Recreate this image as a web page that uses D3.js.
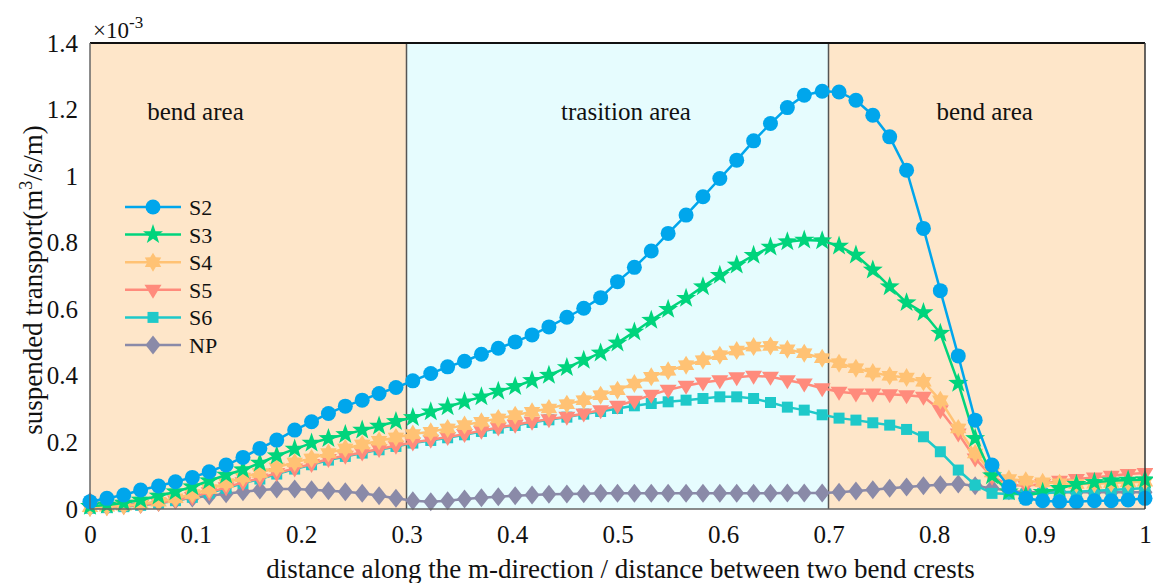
<!DOCTYPE html>
<html>
<meta charset="utf-8">
<head>
<style>
  body { margin: 0; background: #fff; }
  text { font-family: "Liberation Serif", "Times New Roman", serif; fill: #111; }
</style>
</head>
<body>
<script src="https://d3js.org/d3.v7.min.js"></script>
<script>
// x positions (fraction of distance between two bend crests)
var xs = [0, 0.016, 0.032, 0.048, 0.065, 0.081, 0.097, 0.113, 0.129, 0.145, 0.161, 0.177, 0.194, 0.210, 0.226, 0.242,
  0.258, 0.274, 0.290, 0.306, 0.323, 0.339, 0.355, 0.371, 0.387, 0.403, 0.419, 0.435, 0.452, 0.468, 0.484, 0.500,
  0.516, 0.532, 0.548, 0.565, 0.581, 0.597, 0.613, 0.629, 0.645, 0.661, 0.677, 0.694, 0.710, 0.726, 0.742, 0.758,
  0.774, 0.790, 0.806, 0.823, 0.839, 0.855, 0.871, 0.887, 0.903, 0.919, 0.935, 0.952, 0.968, 0.984, 1.0];

// values in 1e-3 m^3/s/m
var s2 = [0.022, 0.032, 0.042, 0.057, 0.069, 0.082, 0.095, 0.112, 0.132, 0.155, 0.182, 0.207, 0.237, 0.262, 0.287, 0.309,
  0.327, 0.347, 0.365, 0.385, 0.407, 0.427, 0.444, 0.465, 0.483, 0.502, 0.523, 0.547, 0.576, 0.603, 0.635, 0.683,
  0.726, 0.775, 0.828, 0.883, 0.938, 0.993, 1.048, 1.106, 1.158, 1.206, 1.243, 1.255, 1.253, 1.228, 1.183, 1.118,
  1.018, 0.843, 0.656, 0.460, 0.267, 0.132, 0.067, 0.032, 0.025, 0.022, 0.022, 0.025, 0.025, 0.027, 0.032];
var s3 = [0.008, 0.012, 0.018, 0.027, 0.039, 0.052, 0.067, 0.085, 0.102, 0.118, 0.138, 0.160, 0.180, 0.198, 0.212, 0.224,
  0.237, 0.249, 0.263, 0.275, 0.292, 0.307, 0.322, 0.337, 0.354, 0.368, 0.386, 0.402, 0.425, 0.447, 0.469, 0.499,
  0.532, 0.567, 0.600, 0.633, 0.668, 0.702, 0.733, 0.762, 0.787, 0.803, 0.808, 0.806, 0.790, 0.763, 0.718, 0.668,
  0.620, 0.590, 0.528, 0.378, 0.212, 0.100, 0.052, 0.040, 0.050, 0.062, 0.074, 0.080, 0.085, 0.087, 0.088];
var s4 = [0.005, 0.007, 0.010, 0.015, 0.022, 0.032, 0.045, 0.060, 0.078, 0.095, 0.108, 0.125, 0.140, 0.152, 0.168, 0.182,
  0.194, 0.205, 0.215, 0.225, 0.232, 0.242, 0.252, 0.262, 0.272, 0.282, 0.292, 0.302, 0.315, 0.327, 0.342, 0.357,
  0.377, 0.397, 0.415, 0.432, 0.447, 0.462, 0.476, 0.488, 0.490, 0.480, 0.468, 0.453, 0.438, 0.423, 0.410, 0.400,
  0.395, 0.382, 0.327, 0.242, 0.167, 0.110, 0.090, 0.085, 0.080, 0.077, 0.075, 0.076, 0.078, 0.080, 0.082];
var s5 = [0.003, 0.005, 0.008, 0.012, 0.018, 0.026, 0.036, 0.050, 0.065, 0.080, 0.092, 0.108, 0.122, 0.135, 0.150, 0.160,
  0.170, 0.180, 0.190, 0.200, 0.208, 0.216, 0.225, 0.235, 0.245, 0.253, 0.262, 0.270, 0.277, 0.287, 0.297, 0.310,
  0.325, 0.343, 0.358, 0.370, 0.380, 0.387, 0.396, 0.400, 0.397, 0.387, 0.377, 0.363, 0.352, 0.347, 0.347, 0.345,
  0.342, 0.337, 0.297, 0.227, 0.152, 0.097, 0.072, 0.070, 0.075, 0.085, 0.090, 0.095, 0.100, 0.105, 0.108];
var s6 = [0.002, 0.004, 0.007, 0.011, 0.017, 0.025, 0.035, 0.048, 0.062, 0.077, 0.090, 0.105, 0.120, 0.133, 0.147, 0.158,
  0.168, 0.178, 0.188, 0.198, 0.206, 0.214, 0.223, 0.233, 0.243, 0.251, 0.260, 0.268, 0.276, 0.285, 0.293, 0.302,
  0.310, 0.317, 0.322, 0.327, 0.332, 0.337, 0.337, 0.332, 0.320, 0.306, 0.297, 0.283, 0.273, 0.267, 0.259, 0.252,
  0.239, 0.217, 0.172, 0.117, 0.072, 0.047, 0.045, 0.045, 0.047, 0.050, 0.052, 0.055, 0.057, 0.060, 0.062];
var np = [0.022, 0.015, 0.013, 0.015, 0.020, 0.027, 0.033, 0.040, 0.046, 0.052, 0.057, 0.060, 0.060, 0.058, 0.055, 0.052,
  0.047, 0.040, 0.032, 0.025, 0.022, 0.025, 0.030, 0.034, 0.037, 0.040, 0.042, 0.044, 0.045, 0.046, 0.047, 0.047,
  0.047, 0.047, 0.047, 0.047, 0.047, 0.047, 0.047, 0.047, 0.047, 0.048, 0.048, 0.048, 0.050, 0.054, 0.058, 0.062,
  0.066, 0.070, 0.073, 0.075, 0.070, 0.062, 0.055, 0.050, 0.050, 0.050, 0.050, 0.050, 0.050, 0.050, 0.050];

var seriesNames = ["S2", "S3", "S4", "S5", "S6", "NP"];
var seriesColors = ["#00a6ec", "#00d47c", "#ffc274", "#ff8b7c", "#1ec9c9", "#8a8aa8"];
var markerTypes = ["circle", "pentagram", "hexagram", "triangle", "square", "diamond"];
var xTicks = [0, 0.1, 0.2, 0.3, 0.4, 0.5, 0.6, 0.7, 0.8, 0.9, 1];
var yTicks = [0, 0.2, 0.4, 0.6, 0.8, 1, 1.2, 1.4];
var regions = [
  { from: 0, to: 0.3, label: "bend area", fill: "#fee6c9" },
  { from: 0.3, to: 0.7, label: "trasition area", fill: "#e6fcfe" },
  { from: 0.7, to: 1, label: "bend area", fill: "#fee6c9" }
];

var width = 1153, height = 583;
var plotL = 90, plotR = 1145, plotT = 43, plotB = 509;

var svg = d3.select("body").append("svg")
  .attr("width", width)
  .attr("height", height);

var x = d3.scaleLinear().domain([0, 1]).range([plotL, plotR]);
var y = d3.scaleLinear().domain([0, 1.4]).range([plotB, plotT]);

// background areas
svg.selectAll("rect.region")
  .data(regions)
  .join("rect")
  .attr("class", "region")
  .attr("x", d => x(d.from))
  .attr("y", plotT)
  .attr("width", d => x(d.to) - x(d.from))
  .attr("height", plotB - plotT)
  .attr("fill", d => d.fill);

svg.selectAll("text.region")
  .data(regions)
  .join("text")
  .attr("class", "region")
  .attr("x", (d, i) => i == 0 ? x(0.1) : i == 1 ? x(0.508) : x(0.848))
  .attr("y", 120)
  .attr("text-anchor", "middle")
  .attr("font-size", 25)
  .text(d => d.label);

// region dividers
svg.selectAll("line.div")
  .data([0.3, 0.7])
  .join("line")
  .attr("x1", d => x(d)).attr("x2", d => x(d))
  .attr("y1", plotT).attr("y2", plotB)
  .attr("stroke", "#555").attr("stroke-width", 1.5);

// markers
function markerPath(type) {
  var p = d3.path(), i, a, r;
  if (type == "circle") {
    p.arc(0, 0, 7.5, 0, 2 * Math.PI);
  } else if (type == "pentagram") {
    for (i = 0; i < 10; i++) {
      r = i % 2 ? 4.2 : 10.5;
      a = -Math.PI / 2 + i * Math.PI / 5;
      i ? p.lineTo(r * Math.cos(a), r * Math.sin(a)) : p.moveTo(r * Math.cos(a), r * Math.sin(a));
    }
  } else if (type == "hexagram") {
    for (i = 0; i < 12; i++) {
      r = i % 2 ? 5.6 : 9.5;
      a = -Math.PI / 2 + i * Math.PI / 6;
      i ? p.lineTo(r * Math.cos(a), r * Math.sin(a)) : p.moveTo(r * Math.cos(a), r * Math.sin(a));
    }
  } else if (type == "triangle") {
    p.moveTo(0, 9); p.lineTo(-8.5, -5); p.lineTo(8.5, -5);
  } else if (type == "square") {
    p.rect(-5.5, -5.5, 11, 11);
  } else {
    p.moveTo(0, -9.5); p.lineTo(7.5, 0); p.lineTo(0, 9.5); p.lineTo(-7.5, 0);
  }
  p.closePath();
  return p.toString();
}

var allSeries = [s2, s3, s4, s5, s6, np].map(function (vals, i) {
  return {
    name: seriesNames[i], color: seriesColors[i], marker: markerTypes[i],
    points: vals.map((v, j) => [xs[j], v])
  };
});

var line = d3.line().x(d => x(d[0])).y(d => y(d[1]));

// draw NP first so S2 ends up on top
var gs = svg.selectAll("g.series")
  .data(allSeries.slice().reverse())
  .join("g")
  .attr("class", "series");

gs.append("path")
  .attr("d", d => line(d.points))
  .attr("fill", "none")
  .attr("stroke", d => d.color)
  .attr("stroke-width", 2.5);

gs.each(function (d) {
  d3.select(this).selectAll("path.mk")
    .data(d.points)
    .join("path")
    .attr("class", "mk")
    .attr("d", markerPath(d.marker))
    .attr("transform", p => "translate(" + x(p[0]) + "," + y(p[1]) + ")")
    .attr("fill", d.color);
});

// frame
svg.append("line").attr("x1", plotL).attr("x2", plotR).attr("y1", plotT).attr("y2", plotT)
  .attr("stroke", "#111").attr("stroke-width", 2);
svg.append("line").attr("x1", plotL).attr("x2", plotR).attr("y1", plotB).attr("y2", plotB)
  .attr("stroke", "#666").attr("stroke-width", 1.5);
svg.append("line").attr("x1", plotL).attr("x2", plotL).attr("y1", plotT).attr("y2", plotB)
  .attr("stroke", "#666").attr("stroke-width", 1.5);
svg.append("line").attr("x1", plotR).attr("x2", plotR).attr("y1", plotT).attr("y2", plotB)
  .attr("stroke", "#333").attr("stroke-width", 1.5);

// axes (labels only, no tick marks)
var xAxis = d3.axisBottom(x).tickValues(xTicks).tickSize(0).tickPadding(16).tickFormat(d3.format("~g"));
var yAxis = d3.axisLeft(y).tickValues(yTicks).tickSize(0).tickPadding(12).tickFormat(d3.format("~g"));

svg.append("g").attr("transform", "translate(0," + plotB + ")").call(xAxis)
  .call(g => g.select(".domain").remove())
  .selectAll("text").attr("font-size", 25).attr("font-family", "Liberation Serif").attr("fill", "#111");
svg.append("g").attr("transform", "translate(" + plotL + ",0)").call(yAxis)
  .call(g => g.select(".domain").remove())
  .selectAll("text").attr("font-size", 25).attr("font-family", "Liberation Serif").attr("fill", "#111");

// exponent
var ex = svg.append("text").attr("x", 93).attr("y", 38).attr("font-size", 23);
ex.append("tspan").text("\u00d710");
ex.append("tspan").attr("dy", -10).attr("font-size", 17).text("-3");

// axis titles
svg.append("text")
  .attr("x", x(0.5) + 3).attr("y", 578)
  .attr("text-anchor", "middle")
  .attr("font-size", 27)
  .text("distance along the m-direction / distance between two bend crests");

var yt = svg.append("text")
  .attr("transform", "translate(42," + ((plotT + plotB) / 2 + 4) + ") rotate(-90)")
  .attr("text-anchor", "middle")
  .attr("font-size", 27);
yt.append("tspan").text("suspended transport(m");
yt.append("tspan").attr("dy", -10).attr("font-size", 18).text("3");
yt.append("tspan").attr("dy", 10).text("/s/m)");

// legend
var lg = svg.selectAll("g.legend")
  .data(allSeries)
  .join("g")
  .attr("class", "legend")
  .attr("transform", (d, i) => "translate(153," + (207 + i * 27.6) + ")");
lg.append("line").attr("x1", -28).attr("x2", 28)
  .attr("stroke", d => d.color).attr("stroke-width", 2.5);
lg.append("path").attr("d", d => markerPath(d.marker)).attr("fill", d => d.color);
lg.append("text").attr("x", 36).attr("y", 8).attr("font-size", 22).text(d => d.name);
</script>
</body>
</html>
